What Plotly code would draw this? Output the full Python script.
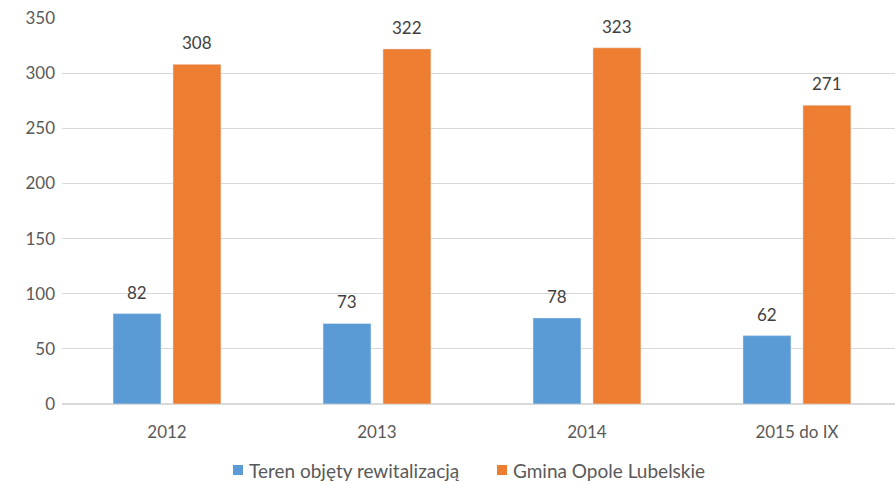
import plotly.graph_objects as go

years = ["2012", "2013", "2014", "2015 do IX"]
teren = [82, 73, 78, 62]
gmina = [308, 322, 323, 271]
series_names = ["Teren objęty rewitalizacją", "Gmina Opole Lubelskie"]
colors = ["#5B9BD5", "#ED7D31"]

FONT = "Lato, 'Open Sans', sans-serif"
TXT = "#595959"
W, H = 895, 485
ML, MT, MB = 62, 18, 81

fig = go.Figure()
for vals, name, col in zip([teren, gmina], series_names, colors):
    fig.add_trace(go.Bar(x=years, y=vals, name=name, marker=dict(color=col),
                         showlegend=False))

# value labels above each bar (group slots are 60 px wide, centred at +/-30 px)
for vals, dx in zip([teren, gmina], [-30, 30]):
    for i, v in enumerate(vals):
        fig.add_annotation(x=i, y=v, text=str(v), showarrow=False,
                           xshift=dx, yshift=9, yanchor="bottom",
                           font=dict(family=FONT, size=17, color="#404040"))

# legend row below the axis
legend_items = [(233, 247), (497, 511)]
for (sx, tx), name, col in zip(legend_items, series_names, colors):
    fig.add_shape(type="rect", xref="paper", yref="paper",
                  x0=(sx - ML) / (W - ML), x1=(sx + 10 - ML) / (W - ML),
                  y0=-(475 - (H - MB)) / (H - MB - MT), y1=-(465 - (H - MB)) / (H - MB - MT),
                  fillcolor=col, line=dict(width=0))
    fig.add_annotation(xref="paper", yref="paper",
                       x=(tx - ML) / (W - ML), y=-(470 - (H - MB)) / (H - MB - MT),
                       xanchor="left", yanchor="middle", showarrow=False, text=name,
                       font=dict(family=FONT, size=19, color=TXT))

fig.update_layout(
    width=W, height=H,
    margin=dict(l=ML, r=0, t=MT, b=MB, autoexpand=False),
    paper_bgcolor="white", plot_bgcolor="white",
    barmode="group", bargap=0.429, bargroupgap=0.2,
    font=dict(family=FONT, size=17, color=TXT),
    showlegend=False,
    xaxis=dict(type="category", range=[-0.5, 3.467], showgrid=False,
               showline=False, ticks="", ticklabelstandoff=16, automargin=False,
               tickfont=dict(size=17, color=TXT)),
    yaxis=dict(range=[0, 350], dtick=50, showgrid=True, gridcolor="#D9D9D9",
               gridwidth=1, zeroline=True, zerolinecolor="#D9D9D9", zerolinewidth=1.5,
               showline=False, ticks="", automargin=False, ticklabelstandoff=6,
               tickfont=dict(size=17, color=TXT)),
)

fig.write_html("out.html")
